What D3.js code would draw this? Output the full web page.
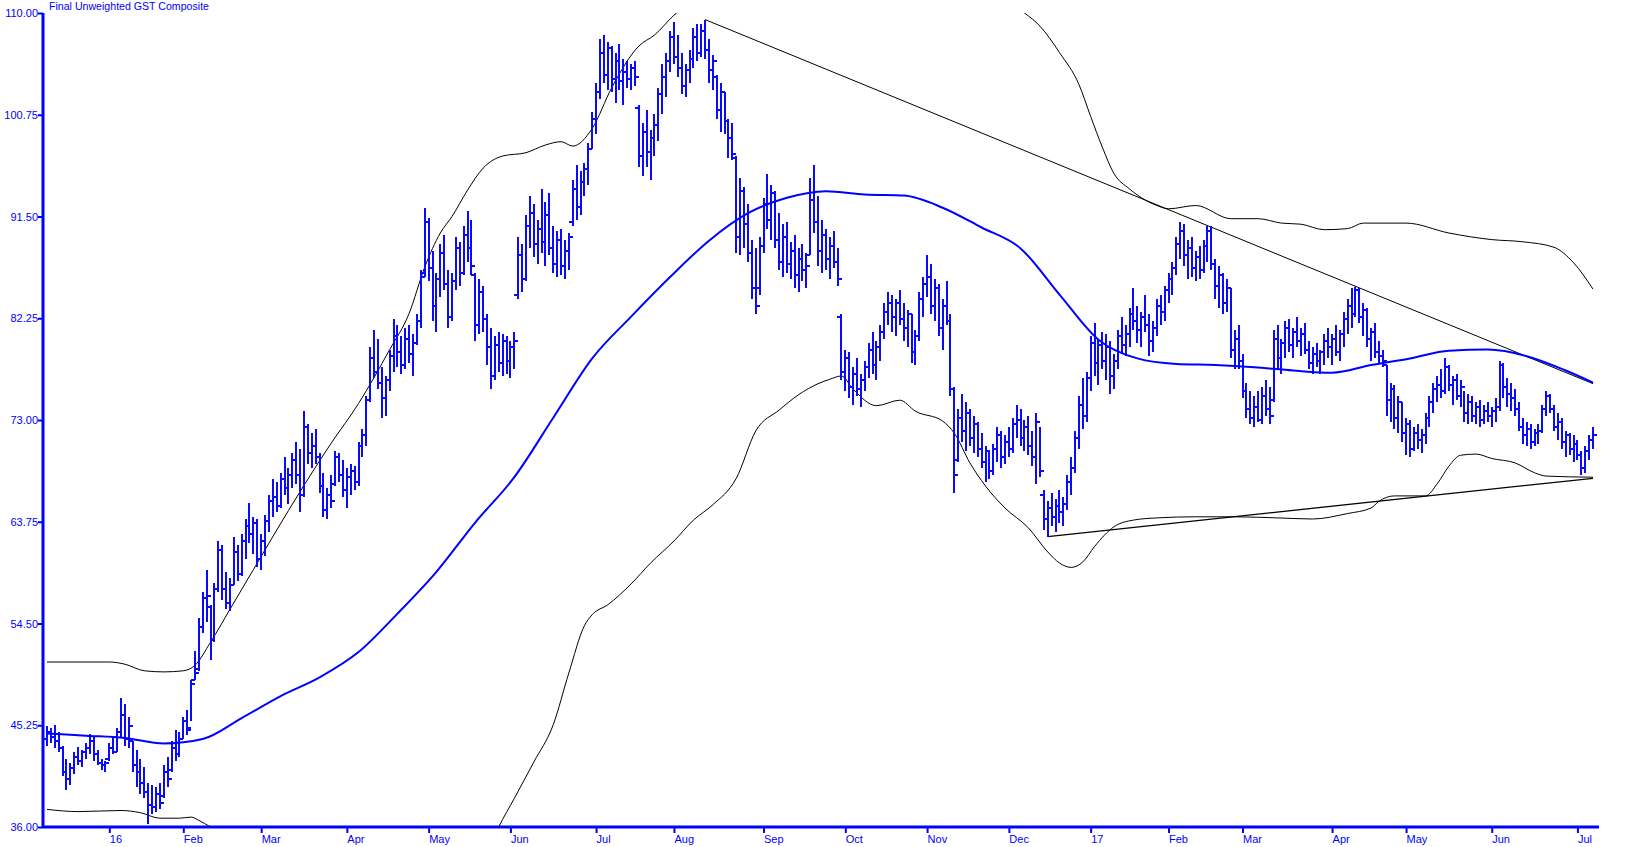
<!DOCTYPE html>
<html>
<head>
<meta charset="utf-8">
<script src="https://cdn.jsdelivr.net/npm/d3@7"></script>
<style>
  body { margin: 0; background: #fff; }
  svg { display: block; font-family: "Liberation Sans", Arial, sans-serif; }
</style>
</head>
<body>
<svg width="1647" height="847"></svg>
<script>
// chart title and y ticks
var title = "Final Unweighted GST Composite";
var yTicks = [36.00, 45.25, 54.50, 63.75, 73.00, 82.25, 91.50, 100.75, 110.00];

// trading calendar: first bar and market holidays
var firstDay = "2015-12-09";
var holidays = ["2015-12-25", "2016-01-01", "2016-01-18", "2016-02-15", "2016-03-25",
  "2016-05-30", "2016-07-04", "2016-09-05", "2016-11-24", "2016-12-26",
  "2017-01-02", "2017-01-16", "2017-02-20", "2017-04-14", "2017-05-29", "2017-07-04"];

// daily bars, one value per trading day
var highs = [
  45.2,45.0,45.3,44.6,43.4,42.2,41.8,42.8,43.3,43.0,43.6,44.5,44.2,43.0,42.2,42.0,
  43.6,44.2,45.0,47.7,47.2,46.0,43.8,43.0,42.2,41.5,40.0,39.8,39.6,40.0,41.6,42.4,43.8,44.8,44.6,
  46.0,46.6,49.4,52.0,55.0,57.4,59.4,56.2,58.2,62.0,61.6,59.2,58.6,62.4,61.6,62.6,64.0,65.5,64.2,64.0,
  62.6,64.4,66.2,67.6,67.4,68.2,69.6,68.6,70.0,71.0,70.4,73.8,72.6,71.8,72.2,70.0,68.2,66.8,68.0,70.2,70.0,
  69.4,68.6,69.0,68.8,71.0,72.2,75.2,79.6,81.2,80.4,77.8,77.0,79.4,82.2,81.6,80.6,81.4,81.6,80.8,82.6,86.6,
  92.3,91.4,88.4,86.4,89.0,89.8,86.6,86.4,89.6,89.2,90.6,92.0,91.2,86.4,85.8,85.2,82.6,81.4,80.6,81.0,80.8,
  80.6,80.2,81.0,89.6,89.0,91.6,93.4,92.6,91.2,94.0,92.8,93.6,90.6,90.2,90.4,89.4,90.0,94.8,96.2,95.6,96.4,98.2,
  101.0,103.6,107.6,108.0,107.4,107.0,106.4,107.2,105.8,105.6,105.4,105.6,101.6,100.0,101.2,99.4,100.8,103.2,105.4,106.4,
  108.4,109.2,108.0,106.4,105.4,106.6,108.6,109.0,109.0,109.4,107.6,106.2,104.4,103.6,102.8,100.4,100.0,97.0,95.0,94.2,92.6,89.4,88.6,
  89.6,93.2,95.4,94.4,93.8,91.8,90.8,91.0,89.2,89.8,88.6,89.0,88.2,95.0,96.2,93.4,91.2,90.4,89.6,90.2,88.6,
  82.6,79.4,79.2,77.8,78.6,77.2,78.4,80.0,81.0,80.2,81.6,83.6,84.6,84.4,84.0,84.8,83.6,83.0,82.6,81.2,84.6,
  86.0,88.0,87.2,85.8,85.4,84.0,85.6,82.6,76.0,74.0,75.4,74.6,74.0,73.4,72.8,71.8,70.6,70.2,70.8,72.4,72.0,
  71.6,72.4,73.2,74.4,74.0,73.0,73.4,72.0,73.6,72.4,66.6,65.6,66.4,65.8,66.6,66.0,68.0,69.6,72.0,75.2,76.8,
  77.4,80.6,81.8,80.4,81.0,80.8,80.2,79.0,81.2,82.4,81.6,83.2,85.0,83.4,82.8,84.4,82.6,82.0,84.0,84.4,
  85.2,86.4,87.4,89.6,91.0,90.8,89.4,89.6,88.4,88.8,89.4,90.6,90.6,87.6,87.0,86.4,85.8,85.0,81.2,
  81.6,79.0,76.4,75.6,75.2,75.6,76.0,76.6,76.0,81.2,81.6,80.4,82.0,82.2,81.4,82.4,81.4,81.8,80.2,79.6,80.0,79.4,80.8,
  81.4,80.8,81.6,81.2,82.8,84.0,85.0,85.1,85.0,83.6,83.2,81.4,81.8,80.2,79.4,78.0,76.4,76.2,75.2,
  74.6,73.2,73.0,72.4,72.6,72.2,73.6,75.2,76.4,77.0,77.6,78.6,78.0,77.0,77.2,76.6,75.6,75.4,75.2,74.6,74.8,74.4,
  74.6,74.2,75.0,78.4,78.2,76.8,76.4,75.8,74.6,73.2,72.8,72.6,72.2,72.6,74.4,75.6,75.4,74.4,73.6,73.2,72.0,71.8,
  71.6,71.2,70.2,70.6,71.6,72.4
];
var lows = [
  43.4,43.6,43.2,42.8,40.6,39.4,39.8,40.8,41.6,41.5,42.2,42.6,42.0,41.6,41.2,41.0,
  42.0,42.6,42.8,44.2,43.4,43.2,41.0,39.6,39.0,38.6,36.3,37.2,37.4,37.6,38.6,39.6,41.0,42.0,42.4,
  44.0,44.4,45.6,49.4,50.2,53.6,54.6,51.2,52.8,57.4,56.6,55.8,55.6,58.0,58.4,58.8,60.4,61.8,60.8,59.6,
  59.4,60.6,62.8,64.2,64.6,65.0,66.2,65.4,66.8,67.2,64.6,66.0,69.0,68.6,69.0,66.4,64.2,64.0,65.0,67.0,67.4,
  66.0,65.0,66.2,66.6,67.0,69.6,70.6,74.6,76.8,75.8,73.2,73.4,75.6,77.4,77.8,77.2,77.6,78.2,77.0,79.8,81.4,
  86.0,85.6,82.0,81.0,84.2,84.8,81.4,82.0,84.8,85.2,86.2,87.4,86.2,80.2,80.8,81.0,78.0,75.8,76.6,77.4,77.0,
  77.2,76.8,77.6,84.0,84.6,85.6,88.6,87.8,87.2,88.2,87.0,88.0,86.4,86.0,86.2,85.8,86.6,90.6,91.2,91.6,93.4,94.4,
  97.6,99.0,102.2,103.6,103.0,102.8,101.8,103.0,101.6,103.2,103.0,103.4,96.0,95.2,96.0,94.8,97.0,98.4,100.8,102.4,
  104.6,105.4,104.2,102.6,102.4,103.6,105.0,105.6,106.0,105.8,103.6,103.0,100.4,99.2,99.0,96.8,96.6,88.2,88.0,88.6,87.4,84.0,82.6,
  84.4,88.2,90.4,89.4,88.6,86.6,86.0,86.4,85.8,85.0,84.6,85.6,85.0,88.0,90.0,87.0,86.4,86.6,85.8,86.8,85.2,
  76.6,75.6,75.0,74.4,75.2,74.2,75.6,76.8,77.2,76.6,78.4,80.4,81.6,81.0,80.6,81.6,80.2,79.6,78.2,78.0,80.2,
  82.4,84.2,82.6,82.0,80.6,79.4,81.6,75.2,66.4,69.2,71.0,70.2,70.6,70.0,69.6,68.6,67.4,67.6,68.0,69.2,68.6,
  69.0,69.6,70.0,71.4,70.6,70.2,69.8,68.8,67.2,67.8,63.0,62.4,63.4,62.8,63.6,63.4,64.8,66.2,68.2,70.4,72.2,
  72.8,75.6,77.0,76.2,77.6,76.6,75.4,75.8,77.6,79.0,78.8,79.6,81.2,80.0,79.6,81.0,78.8,79.2,80.6,81.6,
  82.0,83.6,84.4,86.2,87.6,87.0,85.8,86.0,85.6,85.8,86.4,87.4,86.6,84.0,83.2,82.6,82.8,78.6,77.6,
  77.6,75.0,73.2,72.6,72.4,72.8,72.6,73.4,72.6,74.6,77.6,77.2,78.6,79.2,78.6,79.6,78.8,79.0,77.6,77.2,77.8,77.2,78.0,
  78.6,78.0,78.8,78.4,79.6,80.8,81.4,82.4,81.8,80.6,79.6,78.4,78.6,78.2,77.8,73.4,72.8,72.2,71.8,
  71.0,69.8,69.6,70.2,70.4,70.0,70.8,72.4,73.6,74.6,75.0,75.4,75.6,74.4,74.8,74.2,72.8,72.6,72.8,72.6,72.4,72.6,
  72.8,72.4,72.8,73.8,75.0,74.2,73.8,73.4,72.0,70.8,70.6,70.4,70.6,70.8,71.8,73.4,73.6,72.0,71.2,70.4,69.6,69.8,
  69.2,69.4,68.0,68.2,69.4,70.4
];
var opens = [
  44.0,44.6,44.2,43.8,43.2,41.0,40.4,41.4,42.4,42.0,42.8,43.2,43.8,42.6,41.8,41.6,
  42.2,43.2,42.8,44.6,46.2,44.0,43.8,41.6,41.0,40.0,39.2,38.0,37.8,39.0,38.8,41.0,41.2,43.2,42.6,
  44.0,45.6,45.0,49.4,50.4,54.2,56.8,56.0,53.0,57.6,61.2,57.6,56.4,58.0,61.0,59.0,62.0,63.4,62.6,63.6,
  60.4,62.0,63.8,65.6,66.0,65.2,67.6,66.8,68.0,69.4,68.0,66.2,72.4,70.0,70.6,69.6,67.0,64.8,66.2,67.2,69.6,
  68.0,66.6,67.8,68.4,67.4,70.6,71.6,74.8,78.6,77.4,76.4,75.0,76.6,78.8,80.6,79.2,78.0,80.4,79.0,80.0,82.0,
  86.4,91.0,86.8,83.4,85.8,88.2,85.4,82.4,85.6,88.6,86.4,89.8,88.6,86.2,81.6,84.6,82.2,79.6,77.0,79.8,78.2,
  80.2,78.4,79.6,84.4,88.0,85.8,90.6,91.8,89.0,90.4,89.2,91.6,88.6,87.2,89.4,87.0,88.4,91.0,94.0,92.4,94.6,95.8,
  97.6,100.4,102.8,106.4,104.4,106.8,104.0,105.6,103.8,104.6,104.0,105.0,101.4,97.0,99.2,97.4,98.6,99.8,102.6,104.2,
  105.6,107.8,106.0,105.0,103.4,104.8,105.8,107.8,106.4,108.4,106.6,104.8,104.2,101.2,102.8,100.2,98.6,96.8,89.6,93.8,90.8,88.2,85.0,
  85.0,88.8,92.6,91.2,93.6,89.4,87.4,89.6,87.2,88.4,86.2,87.6,86.6,88.0,93.0,91.0,88.4,89.8,87.6,88.8,87.4,
  82.4,77.4,78.6,76.0,77.2,75.8,76.6,77.8,79.4,78.0,79.6,81.0,82.8,83.6,82.4,83.6,82.2,81.4,82.6,79.2,80.6,
  84.0,85.4,86.0,83.4,85.0,81.4,83.4,82.0,75.8,69.4,73.2,72.0,73.6,71.4,72.6,70.4,69.2,70.2,68.4,70.4,71.6,
  69.6,71.0,70.4,72.6,73.0,71.4,72.4,70.6,69.6,72.8,66.2,64.0,65.0,64.2,65.2,64.6,65.4,67.4,68.6,71.4,74.4,
  73.4,76.8,80.0,78.2,79.8,78.4,79.6,77.0,78.4,80.6,79.8,80.8,82.6,82.0,81.2,82.4,81.6,80.2,81.4,83.4,
  82.8,84.8,85.8,86.8,89.0,90.2,88.0,88.6,86.8,87.8,86.6,88.8,90.2,87.2,85.2,86.2,83.6,85.0,79.4,
  80.4,78.4,75.6,74.0,73.2,74.2,73.0,75.2,74.0,74.8,80.4,78.6,80.0,81.4,79.8,81.0,80.2,80.8,79.4,78.2,79.0,78.4,79.2,
  80.2,79.6,80.4,79.2,80.8,82.2,83.4,82.6,84.8,82.4,83.0,80.4,81.0,79.2,78.8,78.0,74.8,75.8,73.2,
  74.6,71.8,72.6,70.4,71.8,71.2,71.6,73.2,74.6,75.8,76.2,75.6,77.8,76.2,76.6,75.2,76.0,73.6,74.6,73.4,74.2,73.0,
  73.8,73.4,73.8,74.2,78.0,76.0,75.4,75.0,74.0,72.4,71.6,72.2,71.0,71.8,72.0,74.0,75.2,74.0,72.4,72.8,71.0,71.6,
  70.4,70.8,69.8,68.6,70.2,71.2
];
var closes = [
  44.6,44.2,43.8,43.2,41.0,40.4,41.4,42.4,42.0,42.8,43.2,43.8,42.6,41.8,41.6,41.8,
  43.2,42.8,44.6,46.2,44.0,45.2,41.6,41.0,40.0,39.2,38.0,37.8,39.0,38.2,41.0,40.4,43.2,42.6,44.0,
  45.6,44.8,49.0,50.0,54.2,56.8,57.0,53.0,57.6,61.2,57.6,56.4,58.0,61.0,59.0,62.0,63.4,62.6,63.6,60.4,
  62.0,63.8,65.6,66.0,65.2,67.6,66.8,68.0,69.4,68.0,66.2,72.4,70.0,70.6,69.6,67.0,64.8,66.2,65.6,69.6,68.0,
  66.6,67.8,68.4,67.4,70.6,71.6,74.8,78.6,77.4,76.4,75.0,76.6,78.8,80.6,79.2,78.0,80.4,79.0,80.0,82.0,86.0,
  91.0,86.8,83.4,85.8,88.2,85.4,82.4,85.6,88.6,86.4,89.8,88.6,87.0,81.6,84.6,82.2,79.6,77.0,79.8,78.2,80.2,
  78.4,79.6,80.2,88.0,85.8,90.6,91.8,89.0,90.4,89.2,91.6,88.6,87.2,89.4,87.0,88.4,89.6,94.0,92.4,94.6,95.8,97.6,
  100.4,102.8,106.4,104.4,106.8,104.0,105.6,103.8,104.6,104.0,105.0,104.2,97.0,99.2,97.4,98.6,99.8,102.6,104.2,105.6,
  107.8,106.0,105.0,103.4,104.8,105.8,107.8,106.4,108.4,106.6,104.8,105.6,101.2,102.8,100.2,98.6,97.2,89.6,93.8,90.8,88.2,85.0,83.4,
  88.8,92.6,91.2,93.6,89.4,87.4,89.6,87.2,88.4,86.2,87.6,86.6,87.0,93.0,91.0,88.4,89.8,87.6,88.8,87.4,85.8,
  77.4,78.6,76.0,77.2,75.8,76.6,77.8,79.4,78.0,79.6,81.0,82.8,83.6,82.4,83.6,82.2,81.4,82.6,79.2,80.6,84.0,
  85.4,86.0,83.4,85.0,81.4,83.4,82.0,75.8,68.0,73.2,72.0,73.6,71.4,72.6,70.4,69.2,70.2,68.4,70.4,71.6,69.6,
  71.0,70.4,72.6,73.0,71.4,72.4,70.6,69.6,72.8,68.4,64.0,65.0,64.2,65.2,64.6,65.4,67.4,68.6,71.4,74.4,73.4,
  76.8,80.0,78.2,79.8,78.4,79.6,77.0,78.4,80.6,79.8,80.8,82.6,82.0,81.2,82.4,81.6,80.2,81.4,83.4,82.8,
  84.8,85.8,86.8,89.0,90.2,88.0,88.6,86.8,87.8,86.6,88.8,90.2,87.2,85.2,86.2,83.6,85.0,79.4,80.4,
  78.4,75.6,74.0,73.2,74.2,73.0,75.2,74.0,73.4,80.4,78.6,80.0,81.4,79.8,81.0,80.2,80.8,79.4,78.2,79.0,78.4,79.2,80.2,
  79.6,80.4,79.2,80.8,82.2,83.4,82.6,84.8,82.4,83.0,80.4,81.0,79.2,78.8,78.4,74.8,75.8,73.2,74.6,
  71.8,72.6,70.4,71.8,71.2,71.6,73.2,74.6,75.8,76.2,75.6,77.8,76.2,76.6,75.2,76.0,73.6,74.6,73.4,74.2,73.0,73.8,
  73.4,73.8,74.2,78.0,76.0,75.4,75.0,74.0,72.4,71.6,72.2,71.0,71.8,72.0,74.0,75.2,74.0,72.4,72.8,71.0,71.6,70.4,
  70.8,69.8,68.6,70.2,71.2,71.6
];

// moving average, [bar index, value]
var movingAvg = [[0,44.5],[10,44.3],[20,44.1],[30,43.6],[40,44.0],[50,45.9],[60,47.9],[70,49.6],
  [80,51.9],[90,55.4],[100,59.2],[110,63.7],[120,67.8],[130,73.2],[140,78.6],[150,82.4],[160,86.0],
  [170,89.3],[180,91.8],[190,93.2],[200,93.8],[210,93.5],[220,93.4],[230,92.3],[240,90.5],[250,88.6],
  [260,84.4],[270,80.3],[280,78.6],[290,78.1],[300,78.0],[310,77.8],[320,77.5],[330,77.3],[340,78.0],
  [350,78.6],[360,79.3],[370,79.4],[380,78.8],[390,77.5],[397,76.4]];

// upper and lower envelope bands, [bar index, value] (values past the frame are clipped)
var upperBand = [[0,51.0],[16,51.0],[20,50.8],[25,50.2],[30,50.1],[35,50.2],[38,50.7],[42,52.8],
  [47,55.8],[53,59.4],[59,63.0],[65,66.5],[73,70.9],[80,74.5],[88,79.4],[93,82.7],[97,86.9],[101,90.0],
  [104,91.5],[108,93.9],[112,95.9],[117,97.0],[123,97.3],[128,98.0],[132,98.3],[135,97.9],[140,99.5],
  [145,103.2],[152,107.0],[156,108.0],[161,109.8],[165,111.0],[175,113.0],[195,115.0],[215,115.0],
  [235,113.0],[246,111.0],[251,110.0],[255,108.8],[260,106.4],[265,103.5],[268,100.6],[271,97.8],
  [274,95.4],[278,94.0],[282,93.0],[285,92.5],[288,92.2],[295,92.5],[304,91.3],[311,91.3],[317,90.9],
  [322,90.8],[328,90.3],[334,90.4],[338,90.9],[349,90.9],[360,90.0],[371,89.4],[379,89.2],[387,88.7],
  [392,87.3],[397,84.9]];
var lowerBand = [[0,37.6],[8,37.4],[19,37.5],[24,37.3],[29,36.8],[34,36.8],[37,36.9],[39,36.6],
  [42,36.0],[46,35.2],[55,32.0],[70,27.0],[85,24.0],[100,26.0],[110,31.0],[116,36.0],[120,38.6],
  [125,41.9],[130,45.3],[134,50.0],[138,54.3],[140,55.3],[144,56.2],[150,58.1],[155,60.0],[161,62.0],
  [166,63.9],[171,65.3],[177,67.7],[182,72.0],[188,73.9],[193,75.3],[198,76.3],[201,76.7],[204,77.0],
  [207,75.8],[213,74.3],[219,74.8],[223,73.8],[230,72.9],[233,71.8],[237,69.1],[241,67.0],[246,65.0],
  [252,63.2],[257,61.0],[260,60.0],[263,59.6],[266,60.1],[269,61.5],[274,63.3],[279,63.9],[285,64.1],
  [295,64.2],[305,64.2],[316,64.1],[325,64.0],[334,64.5],[340,65.0],[342,65.6],[346,66.1],[354,66.1],
  [357,67.2],[360,68.8],[363,69.8],[367,69.9],[371,69.5],[377,69.1],[382,68.2],[385,67.9],[397,67.8]];

// trend lines, [bar index, value]
var upperTrend = [[169,109.4],[397,76.3]];
var lowerTrend = [[257,62.4],[397,67.7]];

var blue = "#0000ff";
var svg = d3.select("svg"),
  plotLeft = 43, plotRight = 1599, plotTop = 13, plotBottom = 827;

// build the trading day list
var holidaySet = new Set(holidays);
var dates = [];
var day = d3.timeParse("%Y-%m-%d")(firstDay);
var fmt = d3.timeFormat("%Y-%m-%d");
while (dates.length < highs.length) {
  var wd = day.getDay();
  if (wd != 0 && wd != 6 && !holidaySet.has(fmt(day))) dates.push(new Date(day));
  day = d3.timeDay.offset(day, 1);
}

var bars = dates.map(function(d, i) {
  return { date: d, o: opens[i], h: highs[i], l: lows[i], c: closes[i] };
});

var x = d3.scalePoint().domain(d3.range(dates.length)).range([47, 1593]);
var y = d3.scaleLinear().domain([36, 110]).range([plotBottom, plotTop]);

svg.append("defs").append("clipPath").attr("id", "plot")
  .append("rect").attr("x", plotLeft + 1).attr("y", plotTop)
  .attr("width", plotRight - plotLeft).attr("height", plotBottom - plotTop);

// title
svg.append("text")
  .attr("x", 49).attr("y", 10)
  .attr("fill", blue)
  .style("font-size", "10.6px")
  .text(title);

// y axis
var yAxis = svg.append("g")
  .attr("transform", "translate(" + plotLeft + ",0)")
  .call(d3.axisLeft(y).tickValues(yTicks).tickSize(5).tickSizeOuter(0).tickFormat(d3.format(".2f")));
yAxis.select(".domain").remove();
yAxis.selectAll(".tick line").attr("stroke", blue).attr("stroke-width", 2);
yAxis.selectAll(".tick text").attr("fill", blue).attr("x", -5)
  .style("font-size", "11px").style("font-family", "Liberation Sans, Arial, sans-serif");

// x axis, ticks on the first bar of each month
var monthStarts = d3.range(dates.length).filter(function(i) {
  return i == 0 ? false : dates[i].getMonth() != dates[i - 1].getMonth();
});
var xAxis = svg.append("g")
  .attr("transform", "translate(0," + plotBottom + ")")
  .call(d3.axisBottom(x).tickValues(monthStarts).tickSize(6).tickSizeOuter(0)
    .tickFormat(function(i) {
      var d = dates[i];
      return d.getMonth() == 0 ? d3.timeFormat("%y")(d) : d3.timeFormat("%b")(d);
    }));
xAxis.select(".domain").remove();
xAxis.selectAll(".tick line").attr("stroke", blue).attr("stroke-width", 2);
xAxis.selectAll(".tick text")
  .attr("fill", blue).attr("text-anchor", "start").attr("x", 0).attr("y", 8)
  .style("font-size", "11px").style("font-family", "Liberation Sans, Arial, sans-serif");

// axis lines
svg.append("line").attr("x1", plotLeft).attr("x2", plotLeft).attr("y1", plotTop).attr("y2", plotBottom + 1)
  .attr("stroke", blue).attr("stroke-width", 3);
svg.append("line").attr("x1", plotLeft).attr("x2", plotRight).attr("y1", plotBottom).attr("y2", plotBottom)
  .attr("stroke", blue).attr("stroke-width", 3);

var plot = svg.append("g").attr("clip-path", "url(#plot)");

var line = d3.line()
  .x(function(d) { return x(d[0]); })
  .y(function(d) { return y(d[1]); })
  .curve(d3.curveMonotoneX);

// envelope bands
plot.append("path").datum(upperBand).attr("d", line)
  .attr("fill", "none").attr("stroke", "#000").attr("stroke-width", 1);
plot.append("path").datum(lowerBand).attr("d", line)
  .attr("fill", "none").attr("stroke", "#000").attr("stroke-width", 1);

// trend lines
var straight = d3.line().x(function(d) { return x(d[0]); }).y(function(d) { return y(d[1]); });
plot.append("path").datum(upperTrend).attr("d", straight)
  .attr("fill", "none").attr("stroke", "#000").attr("stroke-width", 1);
plot.append("path").datum(lowerTrend).attr("d", straight)
  .attr("fill", "none").attr("stroke", "#000").attr("stroke-width", 1.3);

// OHLC bars
var barG = plot.append("g").attr("stroke", "#0a0aff").attr("stroke-width", 2)
  .attr("shape-rendering", "crispEdges").attr("fill", "none");
barG.selectAll("path")
  .data(bars)
  .enter()
  .append("path")
  .attr("d", function(d, i) {
    var bx = Math.round(x(i));
    var yo = Math.round(y(d.o)), yc = Math.round(y(d.c));
    return "M" + bx + "," + Math.round(y(d.h)) + "V" + Math.round(y(d.l)) +
      "M" + (bx - 4) + "," + yo + "H" + bx +
      "M" + bx + "," + yc + "H" + (bx + 4);
  });

// moving average
plot.append("path").datum(movingAvg).attr("d", line)
  .attr("fill", "none").attr("stroke", blue).attr("stroke-width", 2);
</script>
</body>
</html>
